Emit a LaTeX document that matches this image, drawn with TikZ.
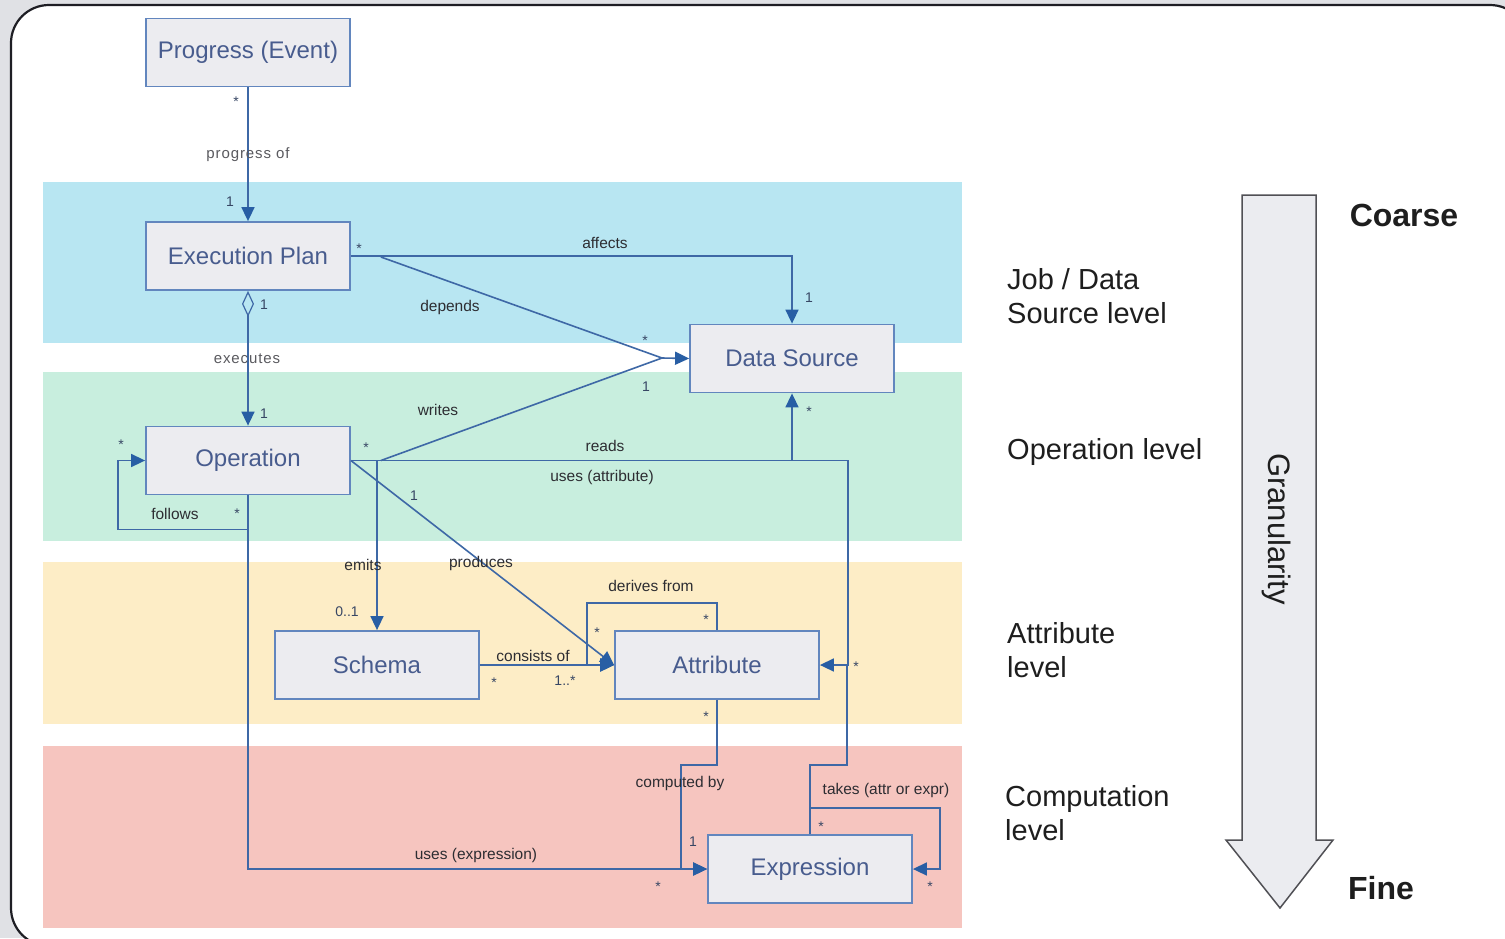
\documentclass[tikz,border=0pt]{standalone}
\usepackage{fontspec}
\setmainfont{Liberation Sans}
\newfontfamily\spacedfont[LetterSpace=6]{Liberation Sans}
\usetikzlibrary{arrows.meta,calc}

\definecolor{outerbg}{RGB}{224,225,229}
\definecolor{framec}{RGB}{30,30,36}
\definecolor{bandjob}{RGB}{184,230,242}
\definecolor{bandop}{RGB}{200,238,222}
\definecolor{bandattr}{RGB}{253,237,198}
\definecolor{bandcomp}{RGB}{246,197,191}
\definecolor{boxfill}{RGB}{236,236,240}
\definecolor{boxline}{RGB}{98,134,190}
\definecolor{boxtext}{RGB}{72,92,142}
\definecolor{conn}{RGB}{62,104,166}
\definecolor{tipc}{RGB}{40,94,164}
\definecolor{lbl}{RGB}{45,45,50}
\definecolor{multc}{RGB}{55,70,100}
\definecolor{soft}{RGB}{90,90,95}
\definecolor{sidetext}{RGB}{30,30,30}
\definecolor{arrowfill}{RGB}{235,236,240}
\definecolor{arrowline}{RGB}{80,80,85}

\begin{document}
\begin{tikzpicture}[x=1pt,y=-1pt,
  cls/.style={draw=boxline, line width=1.8pt, fill=boxfill, minimum width=204pt,
    minimum height=68pt, inner sep=0pt, text=boxtext, font=\fontsize{24}{28}\selectfont},
  assoc/.style={draw=conn, line width=1.6pt},
  tri/.style={-{Triangle[length=14pt,width=13pt,fill=tipc,color=tipc]}},
  rel/.style={text=lbl, font=\fontsize{15.5}{18}\selectfont, inner sep=0pt},
  relsp/.style={text=soft, font=\spacedfont\fontsize{15}{18}\selectfont, inner sep=0pt},
  mult/.style={text=multc, font=\fontsize{14}{16}\selectfont, inner sep=0pt},
  level/.style={text=sidetext, font=\fontsize{29}{34}\selectfont, anchor=west,
    align=left, inner sep=0pt},
  endword/.style={text=sidetext, font=\bfseries\fontsize{32}{36}\selectfont, inner sep=0pt}]

\useasboundingbox (0,0) rectangle (1505,938);

% page background and rounded frame
\fill[outerbg] (0,0) rectangle (1505,938);
\begin{scope}
  \clip (0,0) rectangle (1505,938);
  \draw[line width=2.2pt, draw=framec, fill=white, rounded corners=38pt]
    (11,5) rectangle (1528,946);
\end{scope}

% granularity bands
\fill[bandjob]  (43,182) rectangle (962,343);
\fill[bandop]   (43,372) rectangle (962,541);
\fill[bandattr] (43,562) rectangle (962,724);
\fill[bandcomp] (43,746) rectangle (962,928);

% classes
\node[cls] (pe) at (248,52.5) {Progress (Event)};
\node[cls] (ep) at (248,256)  {Execution Plan};
\node[cls] (ds) at (792,358.5) {Data Source};
\node[cls] (op) at (248,460.5) {Operation};
\node[cls] (sc) at (377,665)  {Schema};
\node[cls] (at) at (717,665)  {Attribute};
\node[cls] (ex) at (810,869)  {Expression};

\coordinate (jn) at (662,358);

% associations
\draw[assoc,tri] (pe.south) -- (ep.north);
\draw[assoc,tri] (ep.east) -| (ds.north);
\draw[assoc] ($(ep.east)+(30,1)$) -- (jn);
\draw[assoc] ($(op.east)+(30,0)$) -- (jn);
\draw[assoc,tri] (jn) -- (ds.west);
\draw[assoc,{Diamond[open,length=26pt,width=12pt,line width=1.2pt]}-{Triangle[length=14pt,width=13pt,fill=tipc,color=tipc]}]
  (ep.south) -- (op.north);
\draw[assoc,tri] (op.south) |- ++(-130,34) |- (op.west);
\draw[assoc,tri] (op.east) -| (ds.south);
\draw[assoc,tri] (op.east) -| ($(at.east)+(28,0)$) -- (at.east);
\draw[assoc,tri] (sc.north |- op.east) -- (sc.north);
\draw[assoc,tri] (op.east) -- (at.west);
\draw[assoc,tri] (sc.east) -- (at.west);
\draw[assoc,tri] (at.north) |- (587,603) |- (at.west);
\draw[assoc,tri] (at.south) |- (681,765) |- (ex.west);
\draw[assoc] (ex.north) |- (847,765) -- (847,665);
\draw[assoc,tri] (ex.north) |- (940,808) |- (ex.east);
\draw[assoc,tri] (op.south) |- (ex.west);

% association names
\node[relsp] (lprog) at (248,155) {progress of};
\node[relsp] (lexec) at (247,359) {executes};
\node[rel] (laff)  at (605,243) {affects};
\node[rel] (ldep)  at (450,307) {depends};
\node[rel] (lwri)  at (438,410) {writes};
\node[rel] (lrea)  at (605,446) {reads};
\node[rel] (luat)  at (602,477) {uses (attribute)};
\node[rel] (lfol)  at (175,514) {follows};
\node[rel] (lemi)  at (363,565) {emits};
\node[rel] (lpro)  at (481,563) {produces};
\node[rel] (lder)  at (651,586) {derives from};
\node[rel] (lcon)  at (533,656) {consists of};
\node[rel] (lcom)  at (680,783) {computed by};
\node[rel] (ltak)  at (886,790) {takes (attr or expr)};
\node[rel] (luex)  at (476,855) {uses (expression)};

% multiplicities
\node[mult] (m1)  at (236,102) {*};
\node[mult] (m2)  at (230,202) {1};
\node[mult] (m3)  at (359,249) {*};
\node[mult] (m4)  at (809,298) {1};
\node[mult] (m5)  at (645,341) {*};
\node[mult] (m6)  at (646,387) {1};
\node[mult] (m7)  at (264,305) {1};
\node[mult] (m8)  at (264,414) {1};
\node[mult] (m9)  at (121,445) {*};
\node[mult] (m10) at (237,514) {*};
\node[mult] (m11) at (366,448) {*};
\node[mult] (m12) at (809,412) {*};
\node[mult] (m13) at (414,496) {1};
\node[mult] (m14) at (347,612) {0..1};
\node[mult] (m15) at (706,620) {*};
\node[mult] (m16) at (597,633) {*};
\node[mult] (m17) at (494,683) {*};
\node[mult] (m18) at (565,681) {1..*};
\node[mult] (m19) at (856,667) {*};
\node[mult] (m20) at (706,717) {*};
\node[mult] (m21) at (821,827) {*};
\node[mult] (m22) at (693,842) {1};
\node[mult] (m23) at (658,887) {*};
\node[mult] (m24) at (930,887) {*};

% level captions
\node[level] (tjob)  at (1007,296) {Job / Data\\Source level};
\node[level] (top)   at (1007,452) {Operation level};
\node[level] (tatt)  at (1007,650) {Attribute\\level};
\node[level] (tcomp) at (1005,813) {Computation\\level};

% granularity arrow
\draw[fill=arrowfill, draw=arrowline, line width=1.5pt]
  (1242,195) -- (1316,195) -- (1316,840) -- (1333,840) -- (1280,908)
  -- (1226,840) -- (1242,840) -- cycle;
\node[text=sidetext, font=\fontsize{31}{36}\selectfont, rotate=-90, inner sep=0pt]
  (tgran) at (1277,529) {Granularity};
\node[endword] (tcoarse) at (1404,215) {Coarse};
\node[endword] (tfine)   at (1381,888) {Fine};
\end{tikzpicture}
\end{document}
